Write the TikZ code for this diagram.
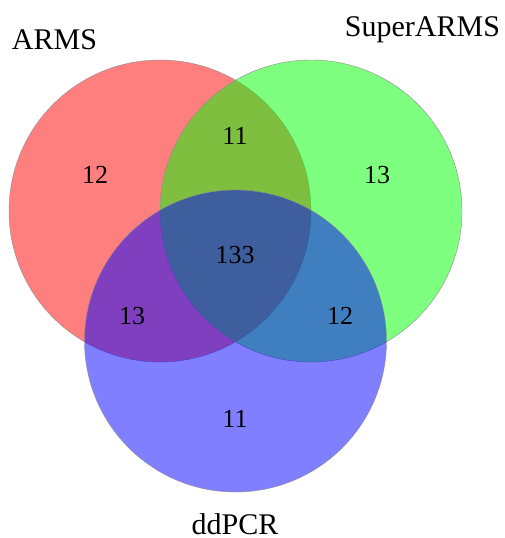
\documentclass[tikz,border=0pt]{standalone}
\usepackage{fontspec}
\setmainfont{Liberation Serif}
\usepackage{tikz}

\begin{document}
\begin{tikzpicture}[x=1pt,y=-1pt,
   setcircle/.style={circle,draw=black!45,line width=0.4pt,minimum size=302pt,
      inner sep=0pt,fill opacity=0.5},
   armsset/.style={setcircle,fill=red},
   superset/.style={setcircle,fill=green},
   pcrset/.style={setcircle,fill=blue},
   setlabel/.style={anchor=base,inner sep=0pt,font=\fontsize{30}{36}\selectfont},
   count/.style={anchor=base,inner sep=0pt,font=\fontsize{26}{31}\selectfont}
]
   \useasboundingbox (0,0) rectangle (504,538);

   \node[armsset] (arms) at (160,211) {};
   \node[superset] (super) at (311,211) {};
   \node[pcrset] (pcr) at (235.5,341) {};

   \node[setlabel] (armslab) at (54.5,49) {ARMS};
   \node[setlabel] (superlab) at (422.5,36) {SuperARMS};
   \node[setlabel] (pcrlab) at (235,534.5) {ddPCR};

   \node[count] (onlyarms) at (95,183) {12};
   \node[count] (armssuper) at (235,144) {11};
   \node[count] (onlysuper) at (377,183) {13};
   \node[count] (allthree) at (235,263) {133};
   \node[count] (armspcr) at (132,324) {13};
   \node[count] (superpcr) at (340,324) {12};
   \node[count] (onlypcr) at (235,427) {11};
\end{tikzpicture}
\end{document}
